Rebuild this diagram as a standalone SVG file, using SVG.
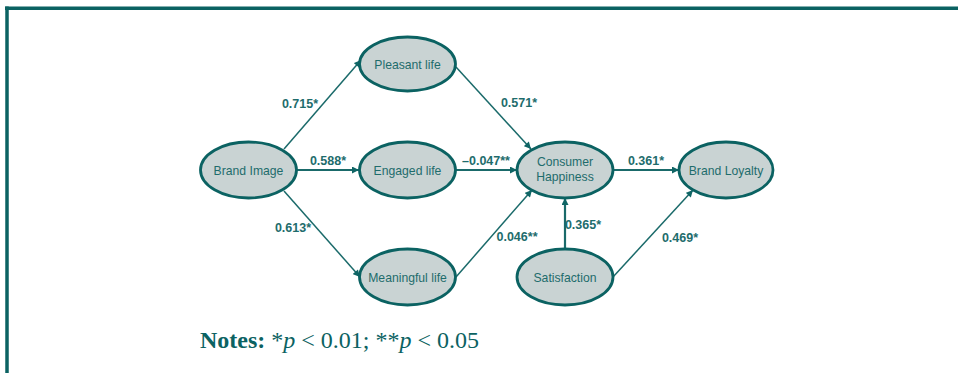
<svg xmlns="http://www.w3.org/2000/svg" width="958" height="373" viewBox="0 0 958 373">
<defs>
<marker id="arr" viewBox="0 0 10 10" refX="10" refY="5" markerWidth="8" markerHeight="7" markerUnits="userSpaceOnUse" orient="auto">
<path d="M0,0 L10,5 L0,10 z" fill="#0f6565"/>
</marker>
</defs>
<style>
.node ellipse{fill:#c9d3d3;stroke:#0b6262;stroke-width:2.8}
.node text{font-family:"Liberation Sans",Arial,sans-serif;font-size:12.2px;fill:#1e6c6c;text-anchor:middle}
.edge{stroke:#1a6a6a;stroke-width:1.5;fill:none;marker-end:url(#arr)}
.thick{stroke-width:2.2}
.lbl{font-family:"Liberation Sans",Arial,sans-serif;font-size:12.5px;font-weight:bold;fill:#1e6c6c;text-anchor:middle}
</style>
<rect width="958" height="373" fill="#ffffff"/>
<g id="frame">
<line x1="5" y1="8.2" x2="958" y2="8.2" stroke="#0b6262" stroke-width="3.5"/>
<line x1="7" y1="6.5" x2="7" y2="373" stroke="#0b6262" stroke-width="3.5"/>
</g>
<g id="connectors">
<line class="edge" x1="284" y1="149" x2="361" y2="60"/>
<line class="edge thick" x1="297" y1="170" x2="359" y2="170"/>
<line class="edge" x1="284" y1="191" x2="360" y2="277"/>
<line class="edge" x1="456" y1="67" x2="531" y2="149"/>
<line class="edge thick" x1="456" y1="170" x2="517" y2="170"/>
<line class="edge" x1="456" y1="277" x2="532" y2="190"/>
<line class="edge thick" x1="565" y1="249" x2="565" y2="198"/>
<line class="edge thick" x1="613" y1="170" x2="679" y2="170"/>
<line class="edge" x1="613" y1="277" x2="693" y2="190"/>
</g>
<g id="labels">
<text class="lbl" x="300" y="108">0.715*</text>
<text class="lbl" x="328" y="165">0.588*</text>
<text class="lbl" x="293" y="232">0.613*</text>
<text class="lbl" x="519" y="107">0.571*</text>
<text class="lbl" x="486" y="165">–0.047**</text>
<text class="lbl" x="646" y="165">0.361*</text>
<text class="lbl" x="517" y="241">0.046**</text>
<text class="lbl" x="583" y="229">0.365*</text>
<text class="lbl" x="680" y="242">0.469*</text>
</g>
<g id="node-pleasant" class="node">
<ellipse cx="407.5" cy="64" rx="48" ry="27"/>
<text x="407.5" y="68.5">Pleasant life</text>
</g>
<g id="node-brandimage" class="node">
<ellipse cx="248.5" cy="170" rx="48" ry="28"/>
<text x="248.5" y="174.5">Brand Image</text>
</g>
<g id="node-engaged" class="node">
<ellipse cx="407.5" cy="170" rx="48" ry="28"/>
<text x="407.5" y="174.5">Engaged life</text>
</g>
<g id="node-meaningful" class="node">
<ellipse cx="407.5" cy="277" rx="48" ry="28"/>
<text x="407.5" y="281.5">Meaningful life</text>
</g>
<g id="node-happiness" class="node">
<ellipse cx="565" cy="170" rx="48" ry="28"/>
<text x="565" y="166">Consumer</text>
<text x="565" y="181">Happiness</text>
</g>
<g id="node-loyalty" class="node">
<ellipse cx="726" cy="170" rx="47" ry="28"/>
<text x="726" y="174.5">Brand Loyalty</text>
</g>
<g id="node-satisfaction" class="node">
<ellipse cx="565" cy="277" rx="48" ry="28"/>
<text x="565" y="281.5">Satisfaction</text>
</g>
<g id="notes">
<text x="200" y="348" font-family="'Liberation Serif','Times New Roman',serif" font-size="24" fill="#0b6262"><tspan font-weight="bold">Notes:</tspan> *<tspan font-style="italic">p</tspan> &lt; 0.01; **<tspan font-style="italic">p</tspan> &lt; 0.05</text>
</g>
</svg>
